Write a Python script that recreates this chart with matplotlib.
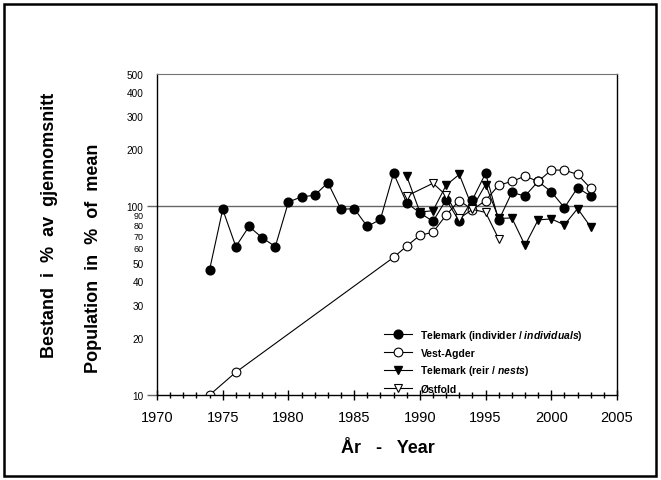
import matplotlib
matplotlib.use("Agg")
import matplotlib.pyplot as plt
from matplotlib.patches import Rectangle

plt.rcParams['font.family'] = ['Liberation Sans', 'DejaVu Sans']
plt.rcParams['mathtext.fontset'] = 'custom'
plt.rcParams['mathtext.it'] = 'Liberation Sans:bold:italic'
plt.rcParams['mathtext.rm'] = 'Liberation Sans:bold'

# Telemark, individuals
yrs_ind = list(range(1974, 2004))
val_ind = [46, 96, 61, 78, 68, 61, 105, 112, 114, 133, 96, 97, 78, 85, 149,
           104, 92, 83, 108, 83, 108, 149, 84, 118, 113, 135, 119, 98, 125, 113]

# Vest-Agder
yrs_va = [1974, 1976] + list(range(1988, 2004))
val_va = [10, 13.2, 53.5, 61.4, 70, 72.7, 89.6, 107, 95.6, 107, 129, 135,
          144, 135, 155, 155, 147, 124]

# Telemark, nests
yrs_nest = list(range(1989, 2004))
val_nest = [144, 93, 94.5, 129, 147, 98, 130, 86, 86.5, 62, 84.5, 85.5,
            79.5, 97, 77.5]

# Østfold
yrs_ost = [1989, 1991, 1992, 1993, 1994, 1995, 1996]
val_ost = [113, 132, 114, 86, 96, 92.6, 67]

major_y = [10, 100]
minor_y = [20, 30, 40, 50, 60, 70, 80, 90, 200, 300, 400, 500]

fig = plt.figure(figsize=(6.61, 4.81), dpi=100)
ax = fig.add_axes([157/661, 1-396/481, 460/661, 321/481])

lw = 0.8
ms = 6.3
ax.plot(yrs_ind, val_ind, color='k', lw=lw, marker='o', ms=ms, mfc='k', mec='k',
        label=r'Telemark (individer / $\it{individuals}$)')
ax.plot(yrs_va, val_va, color='k', lw=lw, marker='o', ms=ms, mfc='white', mec='k',
        mew=0.8, label='Vest-Agder')
ax.plot(yrs_nest, val_nest, color='k', lw=lw, marker='v', ms=ms, mfc='k', mec='k',
        label=r'Telemark (reir / $\it{nests}$)')
ax.plot(yrs_ost, val_ost, color='k', lw=lw, marker='v', ms=ms, mfc='white', mec='k',
        mew=0.8, label='Østfold')

ax.axhline(100, color='0.4', lw=1.0, zorder=0)

ax.set_yscale('log')
ax.set_ylim(10, 500)
ax.set_xlim(1970, 2005)

ax.set_yticks(major_y, [str(v) for v in major_y])
ax.set_yticks(minor_y, [str(v) for v in minor_y], minor=True)
ax.tick_params(axis='y', which='major', length=7, width=1, color='0.4', pad=3,
               labelsize=7.2)
ax.tick_params(axis='y', which='minor', length=0, pad=9.5, labelsize=7.2)
for lab in ax.get_yticklabels(minor=True):
    if lab.get_text() in ('60', '70', '80', '90'):
        lab.set_fontsize(6.5)

ax.set_xticks(range(1970, 2006, 5))
ax.set_xticks(range(1970, 2006), minor=True)
ax.tick_params(axis='x', which='major', direction='inout', length=7, width=1,
               pad=7, labelsize=10.5)
ax.tick_params(axis='x', which='minor', direction='inout', length=5, width=1)

ax.spines['top'].set_color('0.45')
for s in ('left', 'right', 'bottom'):
    ax.spines[s].set_linewidth(1)

fig.text(388/661, 1-449/481, 'År   -   Year', ha='center', va='center',
         fontsize=13, fontweight='bold')
fig.text(50/661, 1-225/481, 'Bestand  i  %  av  gjennomsnitt',
         rotation=90, ha='center', va='center', fontsize=13, fontweight='bold')
fig.text(94/661, 1-258/481, 'Population  in  %  of  mean',
         rotation=90, ha='center', va='center', fontsize=13, fontweight='bold')

leg = ax.legend(loc='upper left', bbox_to_anchor=(384/661, 1-329/481),
                bbox_transform=fig.transFigure, frameon=False,
                prop={'weight': 'bold', 'size': 7.5}, handlelength=2.7,
                handletextpad=0.8, labelspacing=0.55, borderpad=0,
                borderaxespad=0)

fig.patches.append(Rectangle((4/661, 4/481), 652/661, 472/481, fill=False,
                             lw=1.8, ec='k', transform=fig.transFigure,
                             figure=fig))

fig.savefig('out.png', dpi=100)
